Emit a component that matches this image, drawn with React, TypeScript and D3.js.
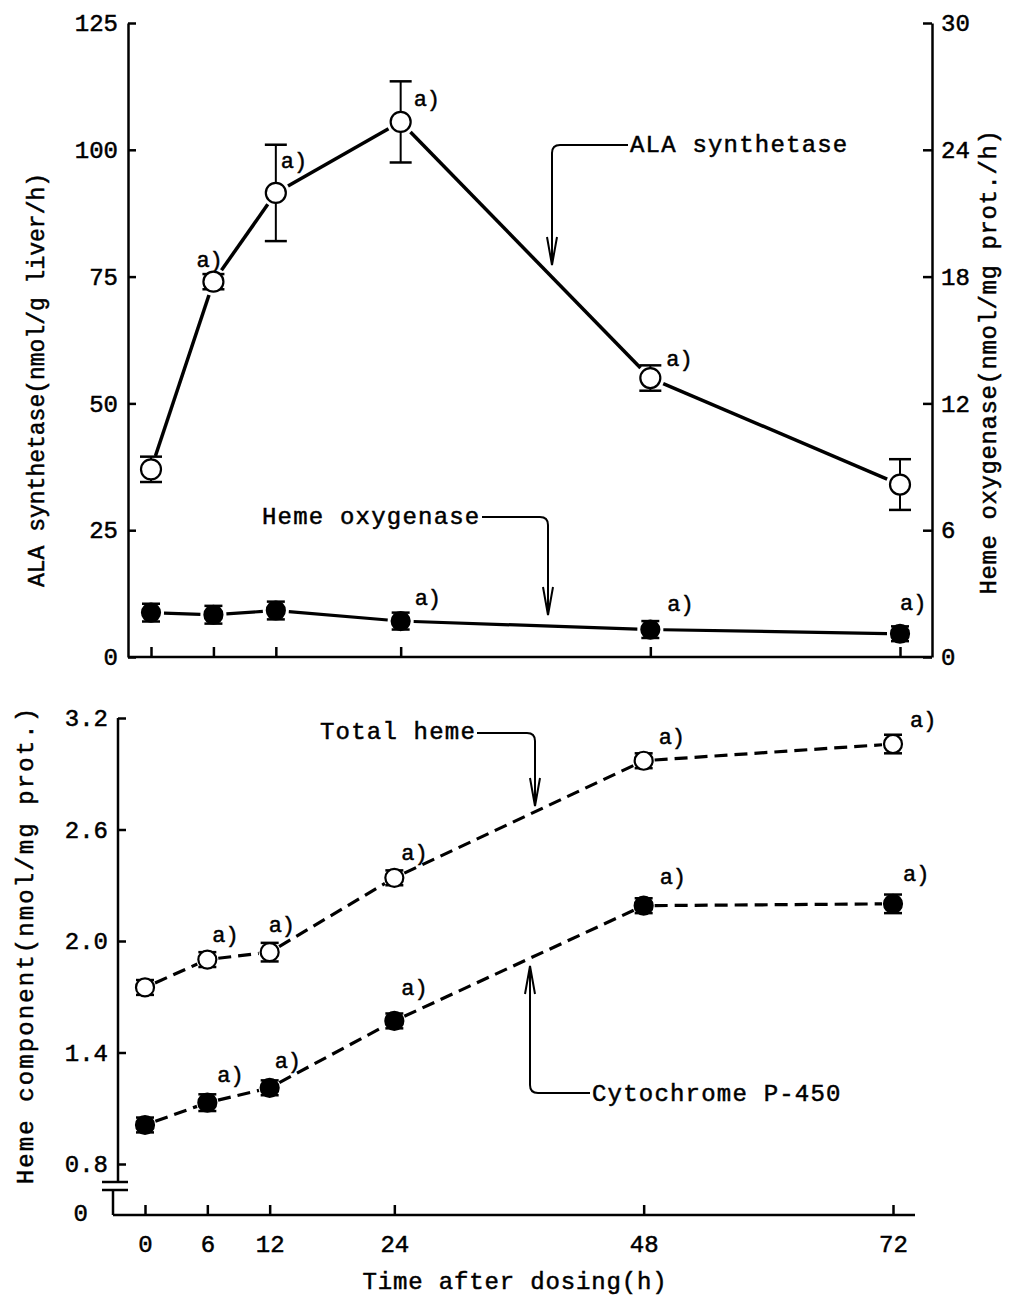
import React, { useRef, useEffect } from "react";
import * as d3 from "d3";

// time points (h)
const hours = [0, 6, 12, 24, 48, 72];

// ALA synthetase, nmol/g liver/h (left axis, open circles)
const alaMean = [37, 74, 91.5, 105.5, 55, 34];
const alaErr = [2.5, 1.5, 9.5, 8, 2.5, 5];
const alaSig = [false, true, true, true, true, false];

// Heme oxygenase, nmol/mg prot./h (right axis, filled circles)
const hoMean = [2.1, 2.0, 2.2, 1.7, 1.3, 1.1];
const hoErr = [0.42, 0.42, 0.42, 0.4, 0.4, 0.35];
const hoSig = [false, false, false, true, true, true];

// Total heme, nmol/mg prot. (open circles)
const totalMean = [1.75, 1.9, 1.94, 2.34, 2.97, 3.06];
const totalErr = [0.04, 0.04, 0.05, 0.04, 0.04, 0.05];
const totalSig = [false, true, true, true, true, true];

// Cytochrome P-450, nmol/mg prot. (filled circles)
const p450Mean = [1.01, 1.13, 1.21, 1.57, 2.19, 2.2];
const p450Err = [0.04, 0.045, 0.04, 0.04, 0.04, 0.05];
const p450Sig = [false, true, true, true, true, true];

// tick labels
const alaTicks = [0, 25, 50, 75, 100, 125];
const hoTicks = [0, 6, 12, 18, 24, 30];
const hemeTicks = [0.8, 1.4, 2.0, 2.6, 3.2];
const timeTicks = [0, 6, 12, 24, 48, 72];

const FONT = "'Liberation Mono', 'DejaVu Sans Mono', monospace";

export default function App() {
  const svgRef = useRef<SVGSVGElement>(null);

  useEffect(() => {
    const svg = d3.select(svgRef.current);
    svg.selectAll("*").remove();

    // scales
    const xT = d3.scaleLinear().domain([0, 72]).range([151, 900]);
    const yL = d3.scaleLinear().domain([0, 125]).range([657, 23]);
    const yR = d3.scaleLinear().domain([0, 30]).range([657, 23]);
    const xB = d3.scaleLinear().domain([0, 72]).range([145, 893]);
    const yB = d3.scaleLinear().domain([0.8, 3.2]).range([1164, 718]);

    const inkText = (sel: any) =>
      sel.attr("font-family", FONT).attr("fill", "#000")
        .attr("stroke", "#000").attr("stroke-width", 0.5);

    const styleAxis = (g: any) => {
      g.selectAll("line").attr("stroke", "#000").attr("stroke-width", 2.5);
      g.selectAll("path").attr("stroke", "#000").attr("stroke-width", 2.5);
      inkText(g.selectAll("text")).attr("font-size", 24).attr("letter-spacing", 0);
    };

    const line = (x1: number, y1: number, x2: number, y2: number, w = 2.5) =>
      svg.append("line").attr("x1", x1).attr("y1", y1).attr("x2", x2).attr("y2", y2)
        .attr("stroke", "#000").attr("stroke-width", w);

    // ---------- top panel axes ----------
    const gl = svg.append("g").attr("transform", "translate(128,0)")
      .call(d3.axisLeft(yL).tickValues(alaTicks).tickSizeInner(-8).tickSizeOuter(0).tickPadding(10));
    styleAxis(gl);

    const gr = svg.append("g").attr("transform", "translate(932,0)")
      .call(d3.axisRight(yR).tickValues(hoTicks).tickSizeInner(-9).tickSizeOuter(0).tickPadding(9));
    styleAxis(gr);

    const gxt = svg.append("g").attr("transform", "translate(0,657)")
      .call(d3.axisBottom(xT).tickValues(timeTicks).tickSizeInner(-10).tickSizeOuter(0).tickFormat(() => ""));
    gxt.select(".domain").remove();
    styleAxis(gxt);
    line(128, 657, 932, 657);

    // ---------- bottom panel axes ----------
    const gbl = svg.append("g").attr("transform", "translate(118,0)")
      .call(d3.axisLeft(yB).tickValues(hemeTicks).tickFormat(d3.format(".1f")).tickSizeInner(-8).tickSizeOuter(0).tickPadding(10));
    gbl.select(".domain").remove();
    styleAxis(gbl);
    line(118, 718, 118, 1182);
    line(102, 1182, 128, 1182);
    line(102, 1190, 128, 1190);
    line(113, 1190, 113, 1215);
    inkText(svg.append("text").attr("x", 88).attr("y", 1215).attr("text-anchor", "end")
      .attr("dominant-baseline", "middle").attr("font-size", 24)).text("0");

    const gxb = svg.append("g").attr("transform", "translate(0,1215)")
      .call(d3.axisBottom(xB).tickValues(timeTicks).tickSizeInner(-10).tickSizeOuter(0).tickPadding(20));
    gxb.select(".domain").remove();
    styleAxis(gxb);
    line(113, 1215, 915, 1215);

    // ---------- axis titles ----------
    const title = (x: number, y: number, rot: number, txt: string, size: number, ls: number) =>
      inkText(svg.append("text")
        .attr("transform", `translate(${x},${y}) rotate(${rot})`)
        .attr("text-anchor", "middle").attr("dominant-baseline", "middle")
        .attr("font-size", size).attr("letter-spacing", ls))
        .text(txt);
    title(38, 380, -90, "ALA synthetase(nmol/g liver/h)", 23, 0);
    title(990, 362, -90, "Heme oxygenase(nmol/mg prot./h)", 24, 0.6);
    title(27, 945, -90, "Heme component(nmol/mg prot.)", 24, 2.1);
    title(515, 1283, 0, "Time after dosing(h)", 24, 0.85);

    // ---------- series ----------
    const series = (
      x: d3.ScaleLinear<number, number>, y: d3.ScaleLinear<number, number>,
      means: number[], errs: number[], sig: boolean[], offs: number[][],
      filled: boolean, dashed: boolean, r: number, cap: number, gap: number, lw: number
    ) => {
      const g = svg.append("g");
      const pts = hours.map((h, i) => [x(h), y(means[i])]);
      for (let i = 0; i < pts.length - 1; i++) {
        const [x1, y1] = pts[i];
        const [x2, y2] = pts[i + 1];
        const len = Math.hypot(x2 - x1, y2 - y1);
        const ux = (x2 - x1) / len, uy = (y2 - y1) / len;
        g.append("line")
          .attr("x1", x1 + ux * gap).attr("y1", y1 + uy * gap)
          .attr("x2", x2 - ux * gap).attr("y2", y2 - uy * gap)
          .attr("stroke", "#000").attr("stroke-width", lw)
          .attr("stroke-dasharray", dashed ? "13 7" : null);
      }
      hours.forEach((h, i) => {
        const cx = x(h);
        const top = y(means[i] + errs[i]);
        const bot = y(means[i] - errs[i]);
        g.append("line").attr("x1", cx).attr("x2", cx).attr("y1", top).attr("y2", bot)
          .attr("stroke", "#000").attr("stroke-width", 2);
        [top, bot].forEach(yy =>
          g.append("line").attr("x1", cx - cap).attr("x2", cx + cap).attr("y1", yy).attr("y2", yy)
            .attr("stroke", "#000").attr("stroke-width", 2.5));
      });
      g.selectAll("circle.pt").data(hours).join("circle")
        .attr("cx", d => x(d)).attr("cy", (d, i) => y(means[i])).attr("r", r)
        .attr("fill", filled ? "#000" : "#fff").attr("stroke", "#000").attr("stroke-width", 2.2);
      let k = 0;
      hours.forEach((h, i) => {
        if (!sig[i]) return;
        const [dx, dy] = offs[k++];
        inkText(g.append("text").attr("x", x(h) + dx).attr("y", y(means[i]) + dy)
          .attr("font-size", 22)).text("a)");
      });
    };

    series(xT, yL, alaMean, alaErr, alaSig, [[-17, -15], [5, -25], [13, -16], [16, -12]], false, false, 10, 11, 14, 3.5);
    series(xT, yR, hoMean, hoErr, hoSig, [[14, -16], [17, -19], [0, -24]], true, false, 9, 9, 13, 3.2);
    series(xB, yB, totalMean, totalErr, totalSig, [[5, -18], [-1, -20], [7, -18], [15, -17], [17, -17]], false, true, 9, 9, 11, 3.2);
    series(xB, yB, p450Mean, p450Err, p450Sig, [[10, -21], [5, -20], [7, -26], [16, -22], [10, -23]], true, true, 9, 9, 11, 3.2);

    // ---------- leader arrows ----------
    const leader = (x0: number, y0: number, cx: number, tipY: number) => {
      const dir = tipY > y0 ? 1 : -1;
      const rr = 8;
      const sx = x0 > cx ? 1 : -1;
      svg.append("path")
        .attr("d", `M${x0},${y0} H${cx + sx * rr} Q${cx},${y0} ${cx},${y0 + dir * rr} V${tipY}`)
        .attr("fill", "none").attr("stroke", "#000").attr("stroke-width", 2);
      svg.append("path")
        .attr("d", `M${cx - 5},${tipY - dir * 28} L${cx},${tipY} L${cx + 5},${tipY - dir * 28}`)
        .attr("fill", "none").attr("stroke", "#000").attr("stroke-width", 2);
    };
    const label = (x0: number, y0: number, txt: string) =>
      inkText(svg.append("text").attr("x", x0).attr("y", y0).attr("text-anchor", "start")
        .attr("dominant-baseline", "middle")
        .attr("font-size", 24).attr("letter-spacing", 1.2)).text(txt);

    leader(628, 145, 552, 265);
    label(630, 146, "ALA synthetase");
    leader(482, 517, 548, 615);
    label(262, 518, "Heme oxygenase");
    leader(477, 733, 535, 806);
    label(320, 733, "Total heme");
    leader(590, 1093, 530, 966);
    label(592, 1095, "Cytochrome P-450");
  }, []);

  return (
    <svg
      ref={svgRef}
      width={1010}
      height={1297}
      style={{ position: "absolute", left: 0, top: 0, background: "#fff" }}
    />
  );
}
